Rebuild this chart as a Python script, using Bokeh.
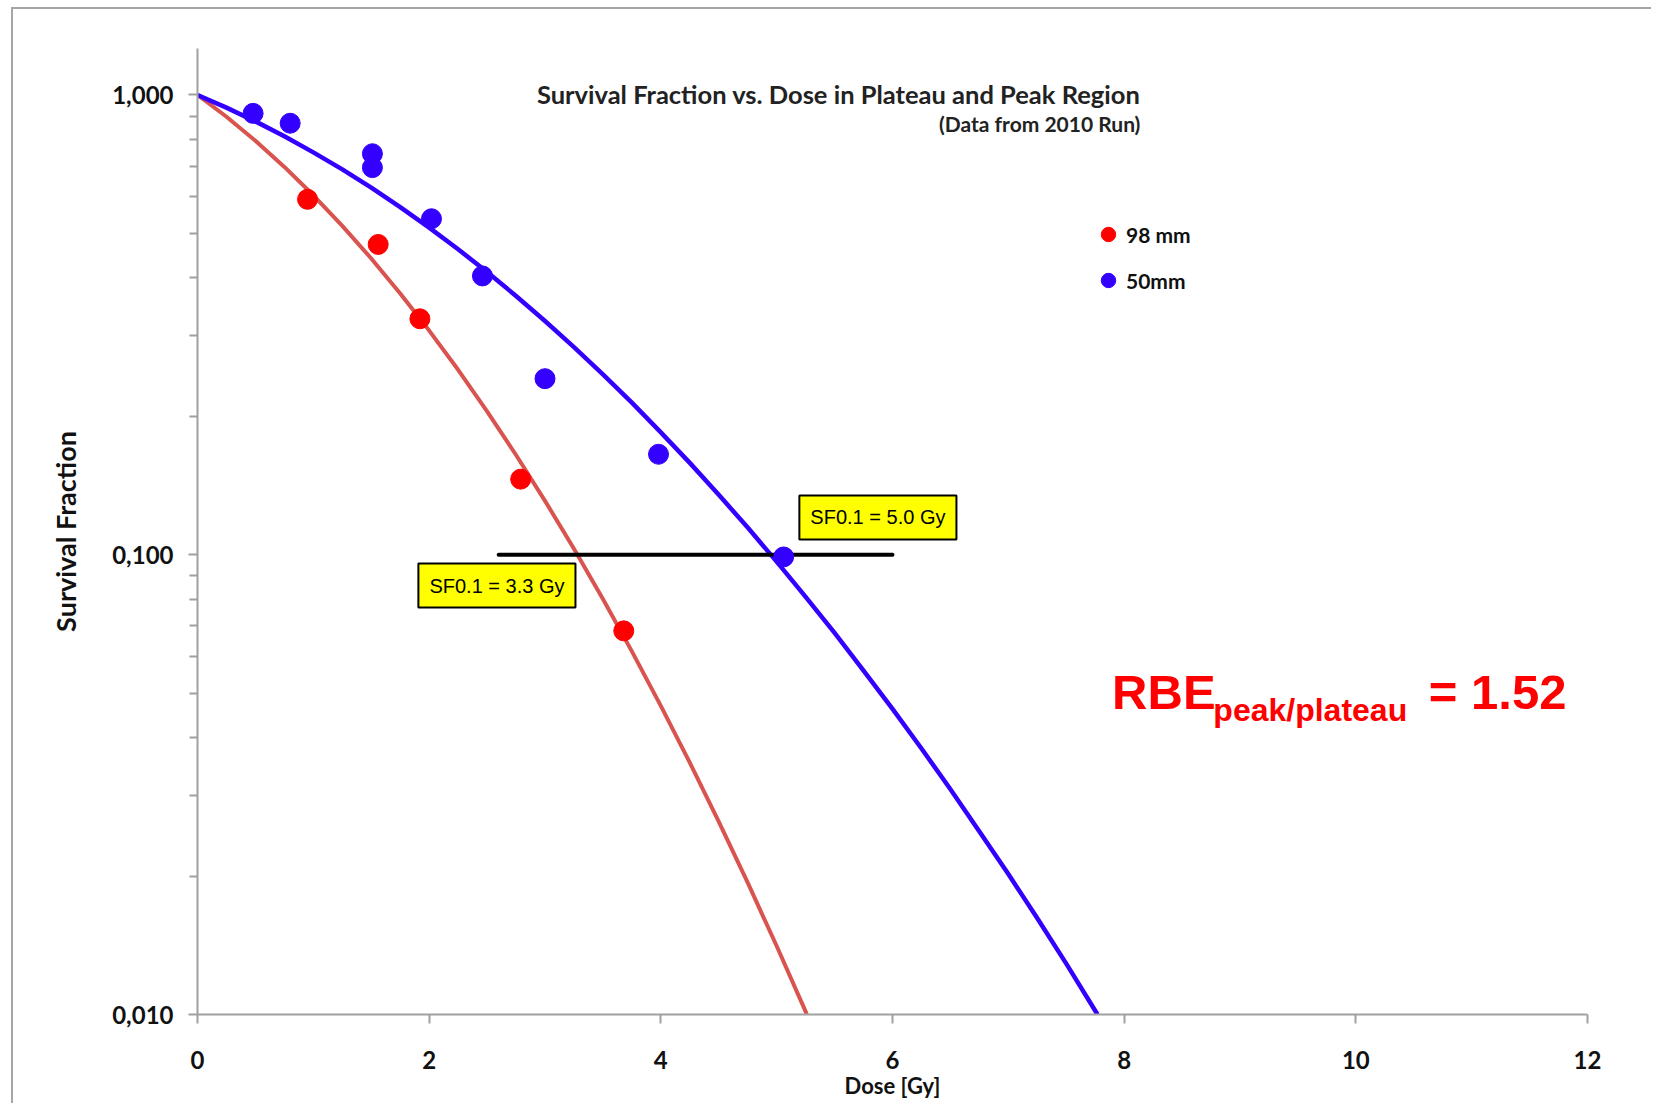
from bokeh.plotting import figure
from bokeh.models import FixedTicker, Label, Legend, LegendItem, Range1d
from bokeh.embed import file_html
from bokeh.resources import INLINE

# ---- data ----
dose_98mm = [0.95, 1.56, 1.92, 2.79, 3.68]
sf_98mm = [0.593, 0.473, 0.326, 0.146, 0.0683]

dose_50mm = [0.48, 0.80, 1.51, 1.51, 2.02, 2.46, 3.00, 3.98, 5.06]
sf_50mm = [0.912, 0.868, 0.745, 0.695, 0.538, 0.404, 0.2415, 0.1654, 0.0989]

fit_dose_98mm = [0.0, 0.25, 0.5, 0.75, 1.0, 1.25, 1.5, 1.75, 2.0, 2.25, 2.5, 2.75, 3.0, 3.25,
                 3.5, 3.75, 4.0, 4.25, 4.5, 4.75, 5.0, 5.26]
fit_sf_98mm = [1.000, 0.8966, 0.7951, 0.6974, 0.6051, 0.5193, 0.4408, 0.3701, 0.3073, 0.2525,
               0.2051, 0.1648, 0.1310, 0.1030, 0.0801, 0.06163, 0.04690, 0.03530, 0.02628,
               0.01935, 0.01409, 0.01002]

fit_dose_50mm = [0.0, 0.25, 0.5, 0.75, 1.0, 1.25, 1.5, 1.75, 2.0, 2.25, 2.5, 2.75, 3.0, 3.25,
                 3.5, 3.75, 4.0, 4.25, 4.5, 4.75, 5.0, 5.25, 5.5, 5.75, 6.0, 6.25, 6.5, 6.75,
                 7.0, 7.25, 7.5, 7.77]
fit_sf_50mm = [1.000, 0.9386, 0.8761, 0.8132, 0.7502, 0.6887, 0.6285, 0.5703, 0.5146, 0.4618,
               0.4120, 0.3655, 0.3224, 0.2829, 0.2468, 0.2141, 0.1846, 0.1584, 0.1350, 0.1146,
               0.0966, 0.0810, 0.0676, 0.0560, 0.0462, 0.0379, 0.0309, 0.0250, 0.0202, 0.0162,
               0.0129, 0.0100]

sf01_dose = [2.6, 6.0]
sf01_sf = [0.1, 0.1]

x_ticks = [0, 2, 4, 6, 8, 10, 12]
y_ticks = [0.01, 0.1, 1.0]
y_tick_labels = ["0,010", "0,100", "1,000"]
y_minor_ticks = [m * d for d in (0.01, 0.1) for m in range(2, 10)]

AXIS_GRAY = "#a0a0a0"
TXT = "#111111"

p = figure(width=1640, height=1096, x_range=Range1d(0, 12), y_range=Range1d(0.01, 1.262),
           y_axis_type="log", output_backend="svg", toolbar_location=None,
           min_border_left=184, min_border_right=66, min_border_top=39, min_border_bottom=91)
p.styles = {"border-top": "2px solid #a6a6a6", "border-left": "2px solid #a6a6a6",
            "margin-left": "11px", "margin-top": "7px"}
p.outline_line_color = None
p.background_fill_color = "white"
p.border_fill_color = "white"
p.grid.visible = False

# axes
for ax in (p.xaxis, p.yaxis):
    ax.axis_line_color = AXIS_GRAY
    ax.axis_line_width = 2
    ax.major_tick_line_color = AXIS_GRAY
    ax.major_tick_line_width = 2
    ax.minor_tick_line_color = AXIS_GRAY
    ax.minor_tick_line_width = 2
    ax.major_tick_in = 0
    ax.major_tick_out = 9
    ax.minor_tick_in = 0
    ax.minor_tick_out = 8
    ax.major_label_text_font = "Lato"
    ax.major_label_text_font_size = "24px"
    ax.major_label_text_font_style = "bold"
    ax.major_label_text_color = TXT
    ax.axis_label_text_font = "Lato"
    ax.axis_label_text_font_style = "bold"
    ax.axis_label_text_color = TXT

p.xaxis.ticker = FixedTicker(ticks=x_ticks, minor_ticks=[])
p.xaxis.major_label_standoff = 27
p.xaxis.axis_label = "Dose [Gy]"
p.xaxis.axis_label_text_font_size = "22px"
p.xaxis.axis_label_standoff = 0

p.yaxis.ticker = FixedTicker(ticks=y_ticks, minor_ticks=y_minor_ticks)
p.yaxis.major_label_overrides = dict(zip(y_ticks, y_tick_labels))
p.yaxis.major_label_standoff = 15
p.yaxis.axis_label = "Survival Fraction"
p.yaxis.axis_label_text_font_size = "27px"
p.yaxis.axis_label_standoff = 27

# fitted curves
p.line(fit_dose_98mm, fit_sf_98mm, line_color="#D9534F", line_width=4, line_join="round")
p.line(fit_dose_50mm, fit_sf_50mm, line_color="#3300FF", line_width=4.5, line_join="round")

# SF = 0.1 level line
p.line(sf01_dose, sf01_sf, line_color="black", line_width=4, line_cap="round")

# measured points
r98 = p.scatter(dose_98mm, sf_98mm, size=20, marker="circle", fill_color="#FF0000", line_color="#FF0000")
r50 = p.scatter(dose_50mm, sf_50mm, size=20, marker="circle", fill_color="#3300FF", line_color="#3300FF")

legend = Legend(items=[LegendItem(label="98 mm", renderers=[r98]),
                       LegendItem(label="50mm", renderers=[r50])],
                location=(893, 716), glyph_width=36, glyph_height=36, spacing=10,
                padding=0, margin=0, label_standoff=0, border_line_color=None,
                background_fill_alpha=0, label_text_font="Lato", label_text_font_size="21px",
                label_text_font_style="bold", label_text_color=TXT)
p.add_layout(legend)

# titles
p.add_layout(Label(x=8.14, y=1.007, text="Survival Fraction vs. Dose in Plateau and Peak Region",
                   text_align="right", text_baseline="alphabetic", text_font="Lato",
                   text_font_style="bold", text_font_size="25.5px", text_color="#222222"))
p.add_layout(Label(x=8.14, y=0.867, text="(Data from 2010 Run)",
                   text_align="right", text_baseline="alphabetic", text_font="Lato",
                   text_font_style="bold", text_font_size="21px", text_color="#222222"))

# SF0.1 boxes
for bx, by, txt in ((1.907, 0.0857, "SF0.1 = 3.3 Gy"), (5.196, 0.1205, "SF0.1 = 5.0 Gy")):
    p.add_layout(Label(x=bx, y=by, text=txt, text_align="left", text_baseline="middle",
                       text_font="Liberation Sans", text_font_size="20px", text_color="black",
                       background_fill_color="#FFFF00", border_line_color="black",
                       border_line_width=2, padding=11))

# RBE annotation
RED = "#FF0000"
p.add_layout(Label(x=7.896, y=0.05026, text="RBE", text_align="left", text_baseline="alphabetic",
                   text_font="Liberation Sans", text_font_style="bold", text_font_size="49px",
                   text_color=RED))
p.add_layout(Label(x=8.77, y=0.04584, text="peak/plateau", text_align="left",
                   text_baseline="alphabetic", text_font="Liberation Sans", text_font_style="bold",
                   text_font_size="32px", text_color=RED))
p.add_layout(Label(x=10.63, y=0.05026, text="= 1.52", text_align="left", text_baseline="alphabetic",
                   text_font="Liberation Sans", text_font_style="bold", text_font_size="49px",
                   text_color=RED))

open("out.html", "w").write(file_html(p, INLINE))
